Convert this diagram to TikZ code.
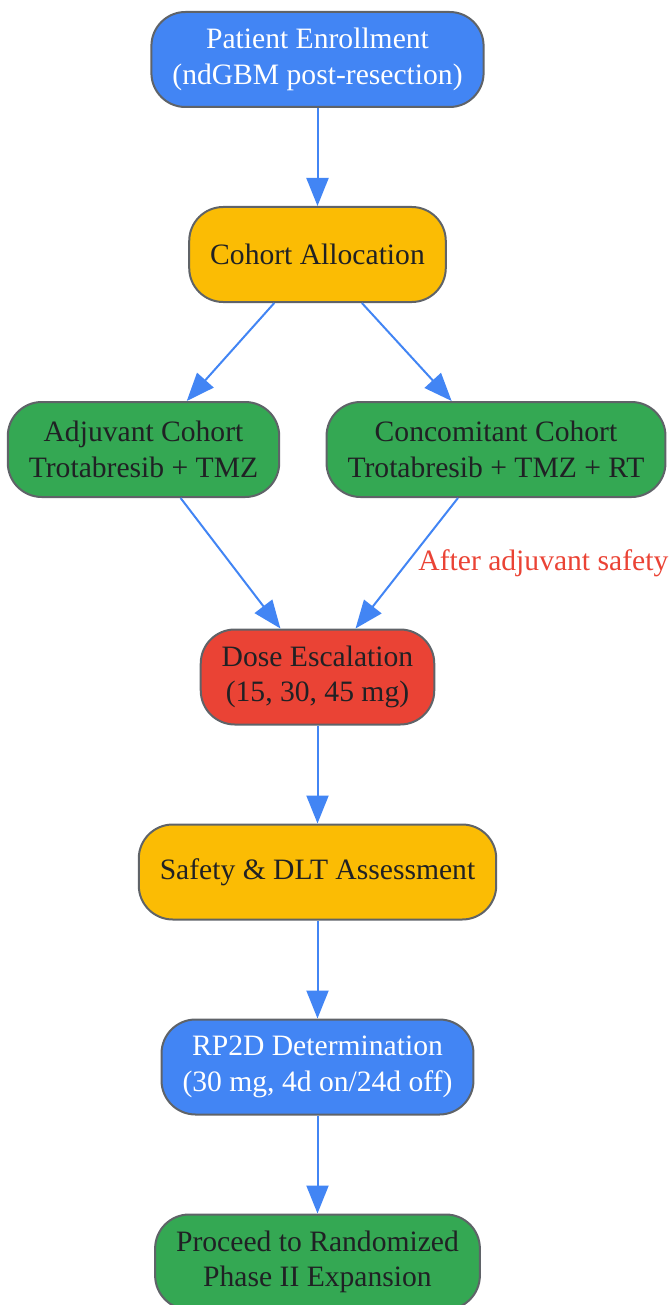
\documentclass[tikz,border=0pt]{standalone}
\usepackage{fontspec}
\setmainfont{Liberation Serif}
\usetikzlibrary{arrows.meta,positioning}

\definecolor{gblue}{HTML}{4285F4}
\definecolor{gyellow}{HTML}{FBBC04}
\definecolor{ggreen}{HTML}{34A853}
\definecolor{gred}{HTML}{EA4335}
\definecolor{gborder}{HTML}{5F6368}
\definecolor{gtext}{HTML}{202124}

\begin{document}
\begin{tikzpicture}[x = 0.5pt, y = -0.5pt, on grid, node distance = 97.5pt,
        font = \fontsize{14.8}{17.7}\selectfont,
        box/.style = {draw = gborder, line width = 1pt, rounded corners = 17pt,
            minimum height = 47.5pt, inner xsep = 10.5pt, align = center, text = gtext},
        flow/.style = {color = gblue, line width = 1pt, -{Triangle[length = 14pt, width = 11pt]}}]
                \useasboundingbox (0,0) rectangle (670,1305);

                \node[box, fill = gblue, text = white] at (317.5,59.5) (enroll) {Patient Enrollment\\(ndGBM post-resection)};
                \node[box, fill = gyellow, below = of enroll]              (alloc)  {Cohort Allocation};
                \node[box, fill = ggreen, below left = 97.5pt and 87pt of alloc]     (adj)  {Adjuvant Cohort\\Trotabresib + TMZ};
                \node[box, fill = ggreen, below right = 97.5pt and 89.25pt of alloc] (conc) {Concomitant Cohort\\Trotabresib + TMZ + RT};
                \node[box, fill = gred, below = 211.25pt of alloc]         (dose)   {Dose Escalation\\(15, 30, 45 mg)};
                \node[box, fill = gyellow, below = of dose]                (safety) {Safety \& DLT Assessment};
                \node[box, fill = gblue, text = white, below = of safety]  (rp2d)   {RP2D Determination\\(30 mg, 4d on/24d off)};
                \node[box, fill = ggreen, below = of rp2d]                 (phase2) {Proceed to Randomized\\Phase II Expansion};

                \draw[flow] (enroll) -- (alloc);
                \draw[flow] (alloc)  -- (adj);
                \draw[flow] (alloc)  -- (conc);
                \draw[flow] (adj)    -- (dose);
                \draw[flow] (conc)   -- node[anchor = west, xshift = 2pt, text = gred] {After adjuvant safety} (dose);
                \draw[flow] (dose)   -- (safety);
                \draw[flow] (safety) -- (rp2d);
                \draw[flow] (rp2d)   -- (phase2);
            \end{tikzpicture}
\end{document}
